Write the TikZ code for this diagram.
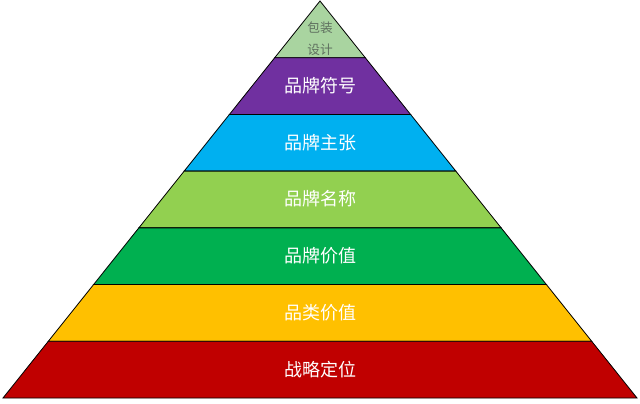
\documentclass[tikz,border=0pt]{standalone}
\usepackage{fontspec}
\newfontfamily\cjk{Noto Sans CJK SC}
\definecolor{c0}{HTML}{A9D4A0}
\definecolor{c1}{HTML}{7030A0}
\definecolor{c2}{HTML}{00B0F0}
\definecolor{c3}{HTML}{92D050}
\definecolor{c4}{HTML}{00B050}
\definecolor{c5}{HTML}{FFC000}
\definecolor{c6}{HTML}{C00000}
\definecolor{toptext}{HTML}{5F705F}
\begin{document}
\begin{tikzpicture}[x=0.75pt,y=-0.75pt,
  layer/.style={draw=black,line width=0.6pt,line join=miter},
  lbl/.style={text=white,font=\cjk\fontsize{13.5}{16}\selectfont,inner sep=0pt},
  toplbl/.style={text=toptext,font=\cjk\fontsize{9.5}{12}\selectfont,inner sep=0pt}]
\useasboundingbox (0,0) rectangle (640,404);
\fill[white] (0,0) rectangle (640,404);
\foreach \i/\col in {0/c0,1/c1,2/c2,3/c3,4/c4,5/c5,6/c6}{
  \pgfmathsetmacro\ya{1+56.714*\i}
  \pgfmathsetmacro\yb{1+56.714*(\i+1)}
  \pgfmathsetmacro\ha{0.79849*(\ya-1)}
  \pgfmathsetmacro\hb{0.79849*(\yb-1)}
  \filldraw[layer,fill=\col] (320-\ha,\ya) -- (320+\ha,\ya) -- (320+\hb,\yb) -- (320-\hb,\yb) -- cycle;
}
\node[toplbl] (t0a) at (320,28) {包装};
\node[toplbl] (t0b) at (320,50) {设计};
\node[lbl] (t1) at (320,86) {品牌符号};
\node[lbl] (t2) at (320,143) {品牌主张};
\node[lbl] (t3) at (320,199) {品牌名称};
\node[lbl] (t4) at (320,256) {品牌价值};
\node[lbl] (t5) at (320,313) {品类价值};
\node[lbl] (t6) at (320,370) {战略定位};
\end{tikzpicture}
\end{document}
